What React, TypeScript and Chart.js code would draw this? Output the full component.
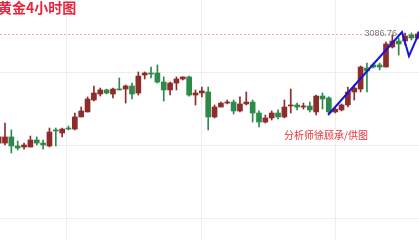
import React, { useEffect, useRef } from "react";
import { Chart, registerables } from "chart.js";

Chart.register(...registerables);

// 4-hour candles (index 1..67)
const opens = [
  3012.0, 3012.0, 3016.2, 3010.0, 3009.3, 3009.3, 3014.1, 3012.0, 3010.0, 3021.0,
  3018.9, 3022.3, 3021.6, 3029.9, 3033.3, 3041.5, 3045.6, 3048.4, 3045.6, 3049.0,
  3049.0, 3051.1, 3046.3, 3058.6, 3060.0, 3060.0, 3053.8, 3048.4, 3053.1, 3055.9,
  3057.3, 3044.9, 3046.3, 3047.0, 3029.9, 3036.7, 3039.4, 3040.1, 3034.0, 3038.8,
  3040.1, 3032.6, 3026.4, 3029.2, 3032.6, 3029.9, 3037.4, 3038.1, 3036.7, 3037.4,
  3033.3, 3044.2, 3042.9, 3033.3, 3034.7, 3038.1, 3047.0, 3049.0, 3063.4, 3065.5,
  3065.5, 3064.1, 3077.8, 3081.9, 3081.9, 3086.0, 3084.0,
];
const highs = [
  3017.5, 3025.7, 3021.0, 3013.4, 3012.0, 3016.8, 3016.2, 3014.1, 3022.3, 3022.3,
  3022.3, 3023.7, 3032.6, 3036.7, 3043.6, 3051.1, 3049.7, 3049.0, 3049.7, 3056.6,
  3051.8, 3053.1, 3060.7, 3060.7, 3064.1, 3065.5, 3057.3, 3053.8, 3057.3, 3057.3,
  3057.9, 3048.4, 3050.4, 3050.4, 3038.1, 3040.1, 3041.5, 3041.5, 3043.6, 3047.0,
  3041.5, 3034.0, 3031.2, 3034.0, 3034.7, 3041.5, 3049.0, 3039.4, 3039.4, 3040.1,
  3044.9, 3046.3, 3043.6, 3036.0, 3038.8, 3050.4, 3051.8, 3064.8, 3066.8, 3066.8,
  3066.8, 3081.2, 3086.0, 3084.0, 3087.4, 3087.4, 3088.1,
];
const lows = [
  3010.7, 3010.7, 3005.2, 3007.3, 3007.9, 3009.3, 3010.7, 3007.9, 3009.3, 3010.0,
  3016.2, 3021.0, 3021.0, 3029.9, 3033.3, 3040.8, 3044.2, 3045.6, 3042.9, 3048.4,
  3039.4, 3042.2, 3044.9, 3055.9, 3056.6, 3053.1, 3040.8, 3044.9, 3048.4, 3055.2,
  3044.2, 3038.1, 3043.6, 3021.0, 3029.2, 3036.7, 3038.8, 3031.9, 3033.3, 3038.1,
  3026.4, 3023.0, 3025.7, 3027.8, 3028.5, 3029.2, 3032.6, 3034.7, 3035.3, 3033.3,
  3031.2, 3035.3, 3032.6, 3032.6, 3034.0, 3036.7, 3041.5, 3047.0, 3047.0, 3063.4,
  3062.1, 3064.1, 3077.1, 3072.3, 3079.2, 3082.6, 3083.3,
];
const closes = [
  3016.2, 3016.2, 3010.0, 3008.6, 3010.7, 3014.1, 3012.0, 3010.7, 3019.6, 3020.3,
  3021.6, 3021.6, 3029.9, 3034.0, 3042.2, 3046.3, 3048.4, 3046.3, 3049.0, 3048.4,
  3051.1, 3045.6, 3057.9, 3060.0, 3059.3, 3053.8, 3048.4, 3053.1, 3055.9, 3057.3,
  3044.9, 3046.3, 3047.7, 3029.9, 3036.7, 3039.4, 3040.1, 3034.0, 3038.8, 3040.1,
  3032.6, 3026.4, 3029.2, 3032.6, 3029.9, 3036.7, 3038.1, 3036.7, 3037.4, 3034.7,
  3044.2, 3042.2, 3033.3, 3035.3, 3038.1, 3047.0, 3049.7, 3064.1, 3061.4, 3064.1,
  3064.1, 3079.9, 3081.9, 3079.9, 3085.3, 3084.0, 3086.76,
];

const lastPrice = 3086.76;
const dayBreaks = [11.76, 32.87, 53.97];
const priceGrid = [2960, 3010, 3060];
const trendX = [52.87, 64.52, 65.62, 67.6];
const trendY = [3031.2, 3088.1, 3071.6, 3091.5];

const titleText = "黄金4小时图";
const creditText = "分析师徐顾承/供图";

const X_MIN = 1.213;
const X_MAX = 67.197;
const Y_MAX = 3110;
const Y_MIN = 2945.6;

const UP = "#8e2b2b";
const DOWN = "#2e8a4a";

export default function App() {
  const ref = useRef<HTMLCanvasElement | null>(null);

  useEffect(() => {
    const canvas = ref.current;
    if (!canvas) return;
    const idx = opens.map((_, i) => i + 1);
    const colors = opens.map((o, i) => (closes[i] >= o ? UP : DOWN));

    const overlay = {
      id: "overlay",
      beforeDatasetsDraw(chart: any) {
        const { ctx, chartArea, scales } = chart;
        const y = Math.round(scales.y.getPixelForValue(lastPrice)) + 0.5;
        ctx.save();
        ctx.strokeStyle = "#e7a9a9";
        ctx.lineWidth = 1;
        ctx.setLineDash([2, 2]);
        ctx.beginPath();
        ctx.moveTo(chartArea.left, y);
        ctx.lineTo(chartArea.right, y);
        ctx.stroke();
        ctx.restore();
      },
      afterDraw(chart: any) {
        const { ctx, scales } = chart;
        ctx.save();
        ctx.fillStyle = "#e8243c";
        ctx.font = "bold 14px 'Noto Sans CJK SC'";
        ctx.textBaseline = "middle";
        ctx.textAlign = "left";
        ctx.fillText(titleText, -2, 8);

        ctx.fillStyle = "#e53238";
        ctx.font = "10px 'Noto Sans CJK SC'";
        ctx.fillText(creditText, 284, 135);

        const y = scales.y.getPixelForValue(lastPrice);
        ctx.fillStyle = "#7a7a7a";
        ctx.font = "9px 'Liberation Sans'";
        ctx.textAlign = "right";
        ctx.fillText(lastPrice.toFixed(2), 397, y);
        ctx.restore();
      },
    };

    const chart = new Chart(canvas, {
      type: "bar",
      data: {
        datasets: [
          {
            type: "line",
            data: trendX.map((x, i) => ({ x, y: trendY[i] })),
            borderColor: "#1616d6",
            borderWidth: 2,
            pointRadius: 0,
            tension: 0,
            order: 0,
          } as any,
          {
            type: "bar",
            data: idx.map((x, i) => ({ x, y: [opens[i], closes[i]] })),
            backgroundColor: colors,
            borderWidth: 0,
            barThickness: 5,
            minBarLength: 1,
            grouped: false,
            order: 1,
          } as any,
          {
            type: "bar",
            data: idx.map((x, i) => ({ x, y: [lows[i], highs[i]] })),
            backgroundColor: colors,
            borderWidth: 0,
            barThickness: 1,
            minBarLength: 1,
            grouped: false,
            order: 2,
          } as any,
        ],
      },
      options: {
        responsive: true,
        maintainAspectRatio: false,
        animation: false,
        layout: { padding: 0 },
        plugins: { legend: { display: false }, tooltip: { enabled: false } },
        scales: {
          x: {
            type: "linear",
            min: X_MIN,
            max: X_MAX,
            offset: false,
            ticks: { display: false },
            grid: { color: "#eeeeee", drawTicks: false, offset: false },
            border: { display: false },
            afterBuildTicks: (s: any) => {
              s.ticks = dayBreaks.map((v) => ({ value: v }));
            },
          },
          y: {
            type: "linear",
            min: Y_MIN,
            max: Y_MAX,
            ticks: { display: false },
            grid: { color: "#eeeeee", drawTicks: false },
            border: { display: false },
            afterBuildTicks: (s: any) => {
              s.ticks = priceGrid.map((v) => ({ value: v }));
            },
          },
        },
      },
      plugins: [overlay],
    });
    return () => chart.destroy();
  }, []);

  return (
    <div
      style={{
        position: "fixed",
        left: 0,
        top: 0,
        width: 419,
        height: 240,
        background: "#ffffff",
      }}
    >
      <canvas ref={ref} />
    </div>
  );
}
